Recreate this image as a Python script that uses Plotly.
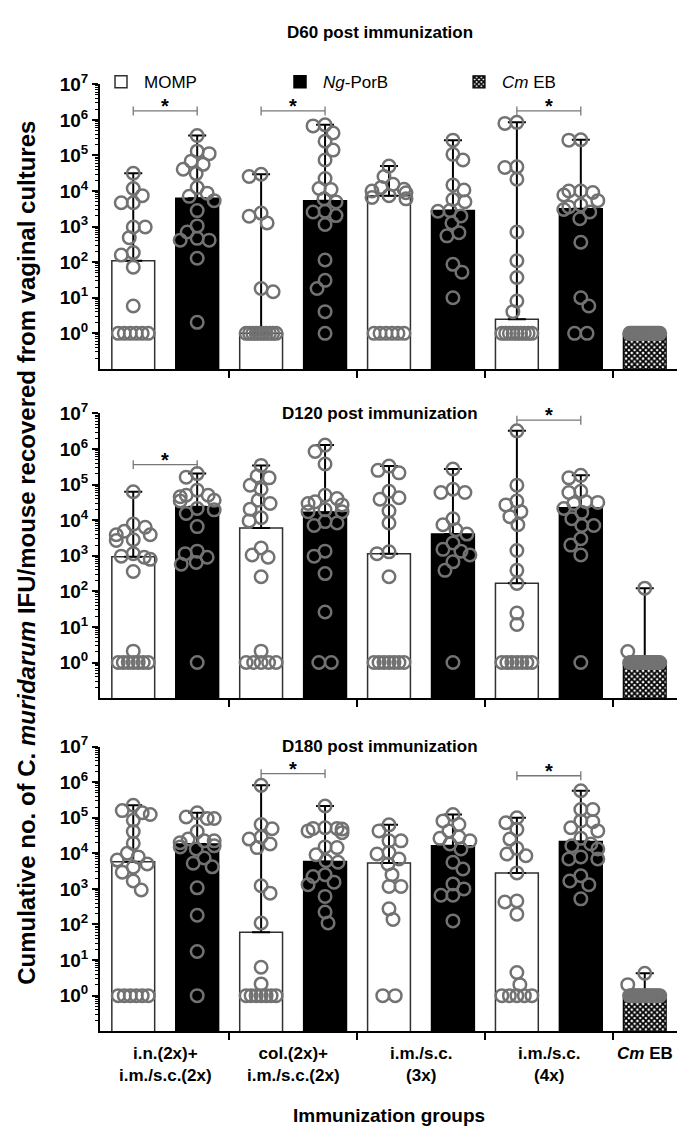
import plotly.graph_objects as go

# ---------------- data (log10 of cumulative IFU / mouse) ----------------
group_labels = ["i.n.(2x)+<br>i.m./s.c.(2x)", "col.(2x)+<br>i.m./s.c.(2x)",
                "i.m./s.c.<br>(3x)", "i.m./s.c.<br>(4x)", "<i>Cm</i> EB"]
series_names = ["MOMP", "<i>Ng</i>-PorB", "<i>Cm</i> EB"]
panel_titles = ["D60 post immunization", "D120 post immunization", "D180 post immunization"]
tick_labels = ["10<sup>%d</sup>" % k for k in range(0, 8)]

# bar order: MOMP g1, PorB g1, MOMP g2, PorB g2, MOMP g3, PorB g3, MOMP g4, PorB g4, Cm EB
d60_log10 = [
    [4.5, 4.07, 3.87, 3.67, 3.67, 2.99, 2.99, 2.69, 2.27, 2.2, 1.86, 0.77, 0, 0, 0, 0, 0, 0],
    [5.56, 5.12, 5.05, 4.84, 4.75, 4.61, 4.49, 4.10, 3.94, 3.85, 3.73, 3.45, 3.02, 2.85, 2.67, 2.62, 2.62, 2.11, 0.31],
    [4.47, 4.41, 3.38, 3.29, 3.10, 1.26, 1.17, 0, 0, 0, 0, 0, 0, 0, 0, 0, 0],
    [5.86, 5.83, 5.63, 5.4, 5.15, 4.87, 4.35, 4.07, 4.04, 3.78, 3.69, 3.43, 3.41, 3.31, 3.06, 2.06, 1.49, 1.26, 0.61, 0],
    [4.70, 4.41, 4.19, 4.10, 4.05, 4.0, 3.95, 3.87, 3.82, 3.78, 0, 0, 0, 0, 0, 0],
    [5.43, 5.03, 4.87, 4.17, 4.03, 3.76, 3.70, 3.45, 3.43, 3.30, 3.10, 2.83, 2.74, 1.94, 1.72, 1.0],
    [5.93, 5.9, 4.68, 4.66, 4.33, 2.85, 2.04, 1.57, 0.91, 0.61, 0, 0, 0, 0, 0, 0, 0, 0, 0],
    [5.44, 5.43, 4.0, 4.0, 3.96, 3.89, 3.73, 3.61, 3.55, 3.48, 3.41, 3.22, 2.56, 1.0, 0.77, 0, 0],
    [0] * 20,
]
d60_median_log10 = [2.04, 3.80, 0.0, 3.73, 3.87, 3.45, 0.40, 3.50, 0.0]

d120_log10 = [
    [4.8, 3.89, 3.8, 3.69, 3.59, 3.59, 3.45, 3.43, 3.06, 2.99, 2.96, 2.90, 2.56, 0.32, 0, 0, 0, 0, 0, 0, 0],
    [5.31, 5.21, 4.84, 4.70, 4.70, 4.66, 4.56, 4.54, 4.33, 4.29, 4.19, 3.82, 3.13, 3.06, 2.96, 2.81, 2.76, 0],
    [5.54, 5.24, 5.19, 4.98, 4.87, 4.56, 4.47, 4.31, 4.07, 3.98, 3.22, 3.02, 2.96, 2.41, 0.32, 0, 0, 0, 0, 0],
    [6.11, 5.93, 5.58, 4.70, 4.61, 4.52, 4.47, 4.43, 4.29, 4.24, 4.24, 3.96, 3.92, 3.85, 3.13, 2.99, 2.5, 1.42, 0, 0],
    [5.52, 5.40, 5.33, 4.81, 4.63, 4.59, 4.26, 3.92, 3.11, 3.06, 2.41, 0, 0, 0, 0, 0, 0, 0],
    [5.44, 4.87, 4.78, 4.78, 4.04, 3.87, 3.73, 3.61, 3.36, 3.18, 3.13, 3.02, 2.83, 2.59, 0],
    [6.51, 4.98, 4.54, 4.43, 4.24, 4.10, 3.87, 3.15, 2.59, 2.22, 1.39, 1.07, 0, 0, 0, 0, 0, 0, 0],
    [5.26, 5.19, 4.81, 4.78, 4.52, 4.5, 4.47, 4.33, 4.22, 4.04, 3.85, 3.85, 3.48, 3.30, 3.02, 0],
    [2.09, 0.31] + [0] * 18,
]
d120_median_log10 = [2.97, 4.38, 3.78, 4.22, 3.06, 3.61, 2.23, 4.35, 0.0]

d180_log10 = [
    [5.35, 5.20, 5.14, 5.09, 4.93, 4.61, 4.28, 4.0, 3.90, 3.81, 3.70, 3.61, 3.47, 3.22, 2.97, 0, 0, 0, 0, 0, 0],
    [5.14, 5.02, 4.98, 4.98, 4.61, 4.40, 4.35, 4.35, 4.30, 4.21, 4.18, 4.12, 3.87, 3.72, 3.62, 3.03, 2.26, 1.24, 0],
    [5.91, 4.81, 4.69, 4.46, 4.40, 4.26, 4.16, 3.09, 2.88, 2.04, 0.80, 0.33, 0, 0, 0, 0, 0, 0, 0],
    [5.33, 4.72, 4.70, 4.70, 4.68, 4.63, 4.58, 4.18, 4.16, 3.96, 3.79, 3.75, 3.40, 3.35, 3.19, 3.12, 2.79, 2.35, 2.04],
    [4.80, 4.63, 4.35, 4.35, 4.02, 3.98, 3.84, 3.70, 3.40, 3.07, 3.07, 2.44, 2.14, 0, 0],
    [5.09, 4.91, 4.81, 4.63, 4.46, 4.42, 4.35, 4.26, 4.12, 3.75, 3.56, 3.14, 3.0, 2.82, 2.82, 2.10],
    [5.0, 4.86, 4.67, 4.40, 4.14, 3.98, 3.93, 3.45, 2.66, 2.63, 2.29, 0.65, 0.31, 0, 0, 0, 0, 0],
    [5.76, 5.23, 5.23, 4.91, 4.89, 4.72, 4.63, 4.42, 4.26, 4.21, 4.12, 3.90, 3.84, 3.84, 3.37, 3.22, 3.12, 2.72],
    [0.63, 0.31] + [0] * 16,
]
d180_median_log10 = [3.76, 4.26, 1.78, 3.77, 3.73, 4.21, 3.45, 4.33, 0.03]

# significance brackets: (left bar, right bar, log10 height)
d60_sig = [(0, 1, 6.25), (2, 3, 6.25), (6, 7, 6.25)]
d120_sig = [(0, 1, 5.56), (6, 7, 6.81)]
d180_sig = [(2, 3, 6.24), (6, 7, 6.18)]

panels = [(d60_log10, d60_median_log10, d60_sig),
          (d120_log10, d120_median_log10, d120_sig),
          (d180_log10, d180_median_log10, d180_sig)]

# ---------------- geometry / style ----------------
W, H = 685, 1130
FONT = "Liberation Sans, Arial, sans-serif"
PX_UNIT = 64.0      # px per bar slot
PX_DEC = 36.0       # px per decade
DIAM = 12.5
X_RANGE = [-0.52, 8.52]
x_dom = [92 / W, 670 / W]
panel_px = [(64, 352), (397, 685), (734, 1022)]   # top/bottom pixel rows of each plot
PT_COLOR = "#727272"


def swarm_offsets(vals):
    offs = [0.0] * len(vals)
    zeros = [i for i, v in enumerate(vals) if v == 0]
    rest = sorted([i for i, v in enumerate(vals) if v != 0], key=lambda i: -vals[i])
    placed = []
    n0 = len(zeros)
    if n0:
        half = min((n0 - 1) * DIAM / 2.0, 15.0)
        for k, i in enumerate(zeros):
            x = 0.0 if n0 == 1 else -half + 2 * half * k / (n0 - 1)
            offs[i] = x
            placed.append((x, 0.0))
    for j, i in enumerate(rest):
        y = vals[i] * PX_DEC
        chosen = None
        for step in range(0, 41):
            cands = (0.0,) if step == 0 else ((-float(step), float(step)) if j % 2 else (float(step), -float(step)))
            for x in cands:
                if all((x - px) ** 2 + (y - py) ** 2 >= (DIAM * 0.92) ** 2 for px, py in placed):
                    chosen = x
                    break
            if chosen is not None:
                break
        if chosen is None:
            chosen = 0.0
        chosen = max(-17.0, min(17.0, chosen))
        offs[i] = chosen
        placed.append((chosen, y))
    return [o / PX_UNIT for o in offs]


fig = go.Figure()
annotations = []
shapes = []
minor_vals = [k * 10.0 ** d for d in range(-1, 7) for k in range(2, 10)]

for p, (pts, med, sig) in enumerate(panels):
    xr = "x" if p == 0 else "x%d" % (p + 1)
    yr = "y" if p == 0 else "y%d" % (p + 1)
    maxes = [max(v) for v in pts]
    styles = [
        ([0, 2, 4, 6], dict(color="white", line=dict(color="#303030", width=1.5)), 0),
        ([1, 3, 5, 7], dict(color="black", line=dict(color="black", width=1.5)), 1),
        ([8], dict(color="white", line=dict(color="black", width=1.2),
                   pattern=dict(shape="x", fgcolor="black", bgcolor="white", size=4, solidity=0.7,
                                fgopacity=1)), 2),
    ]
    for idx, marker, s in styles:
        fig.add_trace(go.Bar(
            x=idx, y=[10 ** med[i] for i in idx], width=0.67,
            marker=marker, name=series_names[s], showlegend=(p == 0),
            error_y=dict(type="data", symmetric=False,
                         array=[10 ** maxes[i] - 10 ** med[i] for i in idx],
                         arrayminus=[0] * len(idx), color="black", thickness=2, width=9),
            xaxis=xr, yaxis=yr, hoverinfo="skip"))
    xs, ys = [], []
    for b, vals in enumerate(pts):
        offs = swarm_offsets(vals)
        xs += [b + o for o in offs]
        ys += [10 ** v for v in vals]
    fig.add_trace(go.Scatter(
        x=xs, y=ys, mode="markers", showlegend=False, xaxis=xr, yaxis=yr,
        marker=dict(symbol="circle-open", size=DIAM, color=PT_COLOR, line=dict(width=2.5, color=PT_COLOR)),
        hoverinfo="skip"))
    # significance brackets
    for (a, b, h) in sig:
        d = 4.5 / PX_DEC
        fig.add_trace(go.Scatter(
            x=[a, a, None, a, b, None, b, b],
            y=[10 ** (h - d), 10 ** (h + d), None, 10 ** h, 10 ** h, None, 10 ** (h - d), 10 ** (h + d)],
            mode="lines", line=dict(color="#777777", width=1.3), showlegend=False,
            xaxis=xr, yaxis=yr, hoverinfo="skip"))
        annotations.append(dict(x=(a + b) / 2, y=h, xref=xr, yref=yr, text="<b>*</b>",
                                showarrow=False, yanchor="bottom", yshift=-8,
                                font=dict(family=FONT, size=20, color="black")))
    # dotted detection line at 10^0
    shapes.append(dict(type="line", xref=xr + " domain", yref=yr, x0=0, x1=1, y0=0, y1=0,
                       line=dict(color="black", width=1, dash="dot"), layer="below"))
    top, bot = panel_px[p]
    # panel title
    ty = 12 if p == 0 else top
    annotations.append(dict(x=372 / W, y=1 - ty / H, xref="paper", yref="paper",
                            text="<b>%s</b>" % panel_titles[p], showarrow=False,
                            xanchor="center", yanchor="middle",
                            font=dict(family=FONT, size=17, color="black")))

layout_axes = {}
for p in range(3):
    top, bot = panel_px[p]
    xk = "xaxis" if p == 0 else "xaxis%d" % (p + 1)
    yk = "yaxis" if p == 0 else "yaxis%d" % (p + 1)
    layout_axes[xk] = dict(domain=x_dom, range=X_RANGE, anchor="y" if p == 0 else "y%d" % (p + 1),
                           showline=True, linecolor="black", linewidth=2, showgrid=False, zeroline=False,
                           tickmode="array", tickvals=[1.5, 3.5, 5.5, 7.5], showticklabels=False,
                           ticks="outside", ticklen=7, tickwidth=1.5, tickcolor="black", fixedrange=True)
    layout_axes[yk] = dict(domain=[1 - bot / H, 1 - top / H], type="log", range=[-1, 7],
                           anchor="x" if p == 0 else "x%d" % (p + 1),
                           showline=True, linecolor="black", linewidth=2, showgrid=False, zeroline=False,
                           tickmode="array", tickvals=[10.0 ** k for k in range(0, 8)], ticktext=tick_labels,
                           ticks="outside", ticklen=6, tickwidth=2, tickcolor="black",
                           tickfont=dict(family=FONT, size=19, color="black", weight="bold"),
                           minor=dict(tickmode="array", tickvals=minor_vals, ticks="outside", ticklen=3,
                                      tickwidth=1, tickcolor="black"),
                           fixedrange=True)

# group labels, axis titles
centers = [0.5, 2.5, 4.5, 6.5, 8]
for c, lab in zip(centers, group_labels):
    annotations.append(dict(x=c, y=1 - 1033 / H, xref="x3", yref="paper", text="<b>%s</b>" % lab,
                            showarrow=False, yanchor="top", align="center",
                            font=dict(family=FONT, size=17, color="black")))
annotations.append(dict(x=381 / W, y=1 - 1107 / H, xref="paper", yref="paper",
                        text="<b>Immunization groups</b>", showarrow=False, yanchor="middle",
                        font=dict(family=FONT, size=19, color="black")))
annotations.append(dict(x=19 / W, y=1 - 538 / H, xref="paper", yref="paper", textangle=-90,
                        xanchor="center", yanchor="middle",
                        text="<b>Cumulative no. of C. <i>muridarum</i> IFU/mouse recovered from vaginal cultures</b>",
                        showarrow=False, font=dict(family=FONT, size=24, color="black")))

fig.update_layout(
    width=W, height=H, margin=dict(l=0, r=0, t=0, b=0),
    paper_bgcolor="white", plot_bgcolor="white", barmode="overlay",
    annotations=annotations, shapes=shapes,
    legend=dict(orientation="h", x=90 / W, y=1 - 62 / H, xanchor="left", yanchor="middle",
                entrywidth=128, entrywidthmode="pixels", font=dict(family=FONT, size=17, color="black"),
                bgcolor="rgba(0,0,0,0)", traceorder="normal", itemwidth=36),
    **layout_axes)

fig.write_html("out.html")
